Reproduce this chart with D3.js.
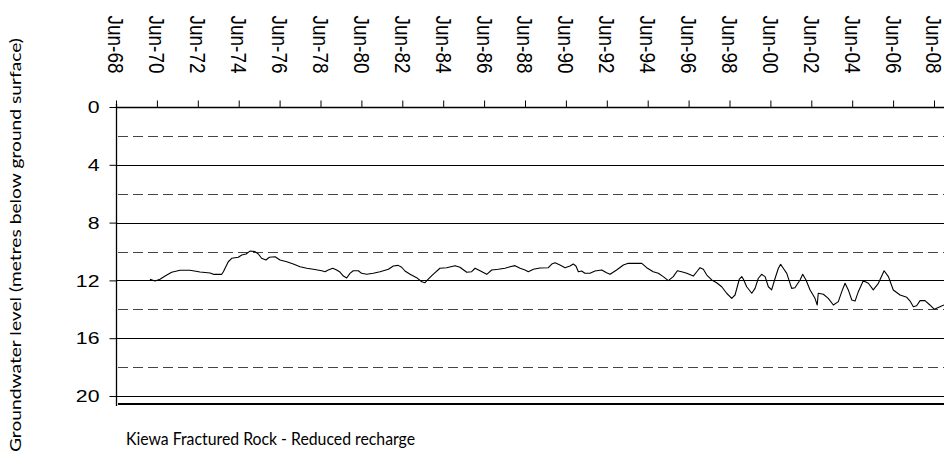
<!DOCTYPE html>
<html><head><meta charset="utf-8">
<script src="https://cdn.jsdelivr.net/npm/d3@7/dist/d3.min.js"></script>
<style>html,body{margin:0;padding:0;background:#fff;overflow:hidden}svg{display:block}</style>
</head><body>
<svg id="chart" width="944" height="452"></svg>
<script>
// ---- data ----
const tickYears = [1968.5,1970.5,1972.5,1974.5,1976.5,1978.5,1980.5,1982.5,1984.5,1986.5,1988.5,1990.5,1992.5,1994.5,1996.5,1998.5,2000.5,2002.5,2004.5,2006.5,2008.5];
const tickLabels = ["Jun-68","Jun-70","Jun-72","Jun-74","Jun-76","Jun-78","Jun-80","Jun-82","Jun-84","Jun-86","Jun-88","Jun-90","Jun-92","Jun-94","Jun-96","Jun-98","Jun-00","Jun-02","Jun-04","Jun-06","Jun-08"];
const yTicks = [0,4,8,12,16,20];
const yMinor = [2,6,10,14,18];
const years = [1970.16,1970.41,1970.65,1970.90,1971.22,1971.63,1972.12,1972.61,1973.10,1973.26,1973.67,1973.75,1973.99,1974.16,1974.48,1974.65,1974.86,1975.05,1975.30,1975.46,1975.62,1975.83,1976.00,1976.28,1976.52,1976.85,1977.17,1977.50,1977.83,1978.15,1978.56,1978.72,1978.88,1979.10,1979.29,1979.45,1979.62,1979.78,1979.94,1980.10,1980.35,1980.51,1980.76,1981.08,1981.41,1981.82,1982.06,1982.30,1982.47,1982.63,1982.88,1983.20,1983.45,1983.61,1983.77,1984.02,1984.34,1984.67,1985.08,1985.32,1985.65,1985.89,1986.06,1986.30,1986.63,1986.87,1987.19,1987.52,1987.77,1988.01,1988.26,1988.50,1988.66,1988.91,1989.23,1989.64,1989.81,1989.97,1990.21,1990.46,1990.70,1990.86,1990.99,1991.11,1991.27,1991.43,1991.68,1991.92,1992.25,1992.49,1992.66,1992.98,1993.31,1993.55,1994.21,1994.45,1994.77,1995.02,1995.26,1995.51,1995.75,1995.95,1996.16,1996.41,1996.73,1996.90,1997.06,1997.22,1997.39,1997.63,1997.87,1998.12,1998.36,1998.61,1998.77,1998.98,1999.10,1999.18,1999.34,1999.59,1999.75,1999.91,2000.07,2000.24,2000.40,2000.56,2000.73,2000.89,2001.00,2001.13,2001.30,2001.54,2001.70,2001.95,2002.08,2002.24,2002.44,2002.68,2002.79,2002.84,2003.09,2003.33,2003.58,2003.82,2003.99,2004.15,2004.31,2004.48,2004.64,2004.80,2005.04,2005.29,2005.53,2005.78,2006.06,2006.27,2006.51,2006.84,2007.17,2007.33,2007.49,2007.65,2007.82,2008.06,2008.30,2008.52,2008.79,2008.99];
const levels = [11.92,12.04,11.92,11.70,11.44,11.30,11.30,11.42,11.49,11.58,11.58,11.40,10.71,10.47,10.40,10.24,10.17,9.97,10.01,10.17,10.47,10.59,10.40,10.36,10.59,10.71,10.87,11.05,11.16,11.23,11.33,11.40,11.28,11.16,11.28,11.42,11.70,11.83,11.51,11.33,11.33,11.51,11.58,11.51,11.40,11.23,11.00,10.96,11.09,11.35,11.58,11.81,12.09,12.16,11.92,11.56,11.16,11.12,10.98,11.09,11.44,11.40,11.16,11.33,11.58,11.28,11.23,11.16,11.05,10.98,11.16,11.28,11.40,11.23,11.14,11.12,10.87,10.78,10.93,11.12,11.00,10.87,11.00,11.40,11.35,11.51,11.51,11.35,11.28,11.47,11.58,11.28,10.93,10.82,10.82,11.12,11.40,11.51,11.74,12.02,11.74,11.33,11.40,11.51,11.70,11.40,11.12,11.23,11.63,11.97,12.16,12.44,12.89,13.24,13.01,11.92,11.74,11.92,12.44,12.89,12.55,11.85,11.58,11.74,12.44,12.66,11.85,11.16,10.89,11.16,11.51,12.55,12.51,11.97,11.58,11.97,12.66,13.24,13.70,12.89,12.96,13.24,13.70,13.47,12.78,12.20,12.66,13.36,13.43,12.78,12.02,12.20,12.66,12.20,11.33,11.74,12.66,13.01,13.17,13.43,13.82,13.75,13.40,13.40,13.70,14.00,13.82,13.70];
const titleText = "Kiewa Fractured Rock - Reduced recharge";
const yLabelText = "Groundwater level (metres below ground surface)";

// ---- drawing ----
const svg = d3.select("#chart");
const x = d3.scaleLinear().domain([1968.5, 2008.5]).range([116, 934]);
const y = d3.scaleLinear().domain([0, 20]).range([107, 396]);
const xEnd = 944;

// dashed minor gridlines
svg.append("g").selectAll("line").data(yMinor).join("line")
  .attr("x1", 118).attr("x2", xEnd)
  .attr("y1", d => Math.round(y(d)) + 0.5).attr("y2", d => Math.round(y(d)) + 0.5)
  .attr("stroke", "#444").attr("stroke-width", 1.2).attr("stroke-dasharray", "10,5");

// solid major gridlines
svg.append("g").selectAll("line").data(yTicks.filter(d => d > 0)).join("line")
  .attr("x1", 117).attr("x2", xEnd)
  .attr("y1", d => Math.round(y(d)) + 0.5).attr("y2", d => Math.round(y(d)) + 0.5)
  .attr("stroke", "#000").attr("stroke-width", 1);

// bottom frame line
svg.append("line").attr("x1", 118).attr("x2", xEnd).attr("y1", 404).attr("y2", 404)
  .attr("stroke", "#000").attr("stroke-width", 2.2);

// left axis
const yAxis = d3.axisLeft(y).tickValues(yTicks).tickSize(7).tickFormat(d3.format("d"));
const gy = svg.append("g").attr("transform", "translate(116.5,0)").call(yAxis);
gy.select(".domain").remove();
gy.append("line").attr("x1", 0).attr("x2", 0).attr("y1", 104).attr("y2", 406).attr("stroke", "#000").attr("stroke-width", 1.3);
gy.selectAll(".tick line").attr("stroke", "#000");
gy.selectAll(".tick text")
  .attr("x", 0).attr("dy", null).attr("dominant-baseline", "central")
  .attr("text-anchor", "end")
  .attr("transform", "translate(-17,0) scale(1.25,1)")
  .attr("font-family", "Liberation Sans, Arial, sans-serif")
  .attr("font-size", 17).attr("fill", "#000");

// top axis
const xAxis = d3.axisTop(x).tickValues(tickYears).tickSize(7).tickFormat((d, i) => tickLabels[i]);
const gx = svg.append("g").attr("transform", "translate(0,107.5)").call(xAxis);
gx.select(".domain").attr("d", `M116,0H${xEnd}`).attr("stroke", "#000").attr("stroke-width", 1.3);
gx.selectAll(".tick line").attr("stroke", "#000");
gx.selectAll(".tick text")
  .attr("x", 0).attr("y", 0).attr("dy", null)
  .attr("text-anchor", "start").attr("dominant-baseline", "central")
  .attr("transform", "translate(0,-92) rotate(90) scale(1,1.15)")
  .attr("font-family", "Liberation Sans, Arial, sans-serif")
  .attr("font-size", 19).attr("fill", "#000");

// data line
const pts = years.map((t, i) => [t, levels[i]]);
svg.append("path").datum(pts)
  .attr("fill", "none").attr("stroke", "#000").attr("stroke-width", 1.1)
  .attr("stroke-linejoin", "round")
  .attr("d", d3.line().x(d => x(d[0])).y(d => y(d[1])));

// y-axis title
svg.append("text")
  .attr("transform", "translate(14,452) rotate(-90)")
  .attr("x", 0).attr("y", 0).attr("dominant-baseline", "central")
  .attr("font-family", "Lato, Open Sans, sans-serif").attr("font-size", 16)
  .attr("textLength", 414).attr("lengthAdjust", "spacingAndGlyphs")
  .attr("fill", "#000").text(yLabelText);

// chart caption
svg.append("text").attr("x", 126).attr("y", 445)
  .attr("font-family", "Lato, Open Sans, sans-serif").attr("font-size", 18)
  .attr("textLength", 289).attr("lengthAdjust", "spacingAndGlyphs")
  .attr("fill", "#000").text(titleText);
</script>
</body></html>
